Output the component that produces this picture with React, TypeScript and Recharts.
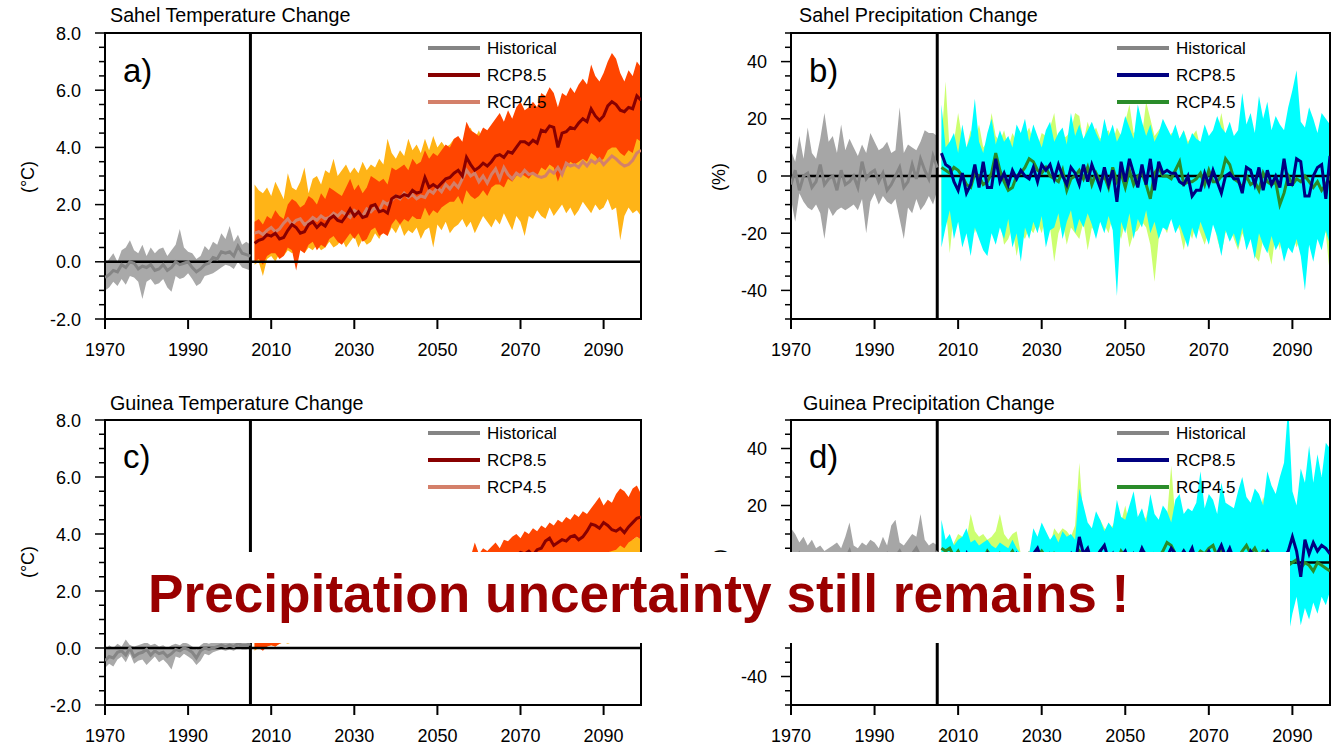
import React from "react";
import { ComposedChart, Area, Line, XAxis, YAxis, ReferenceLine, ReferenceArea } from "recharts";

const FONT = "'Liberation Sans', Arial, Helvetica, sans-serif";

// ---------- categories / ticks ----------
const histYears = Array.from({ length: 36 }, (_, i) => 1970 + i); // 1970-2005
const futureYears = Array.from({ length: 94 }, (_, i) => 2006 + i); // 2006-2099
const xTicks = [1970, 1990, 2010, 2030, 2050, 2070, 2090];
const tempTicks = [-2, -1.5, -1, -0.5, 0, 0.5, 1, 1.5, 2, 2.5, 3, 3.5, 4, 4.5, 5, 5.5, 6, 6.5, 7, 7.5, 8];
const tempMajor = [-2, 0, 2, 4, 6, 8];
const precTicks = [-50, -45, -40, -35, -30, -25, -20, -15, -10, -5, 0, 5, 10, 15, 20, 25, 30, 35, 40, 45, 50];
const precMajor = [-40, -20, 0, 20, 40];
// labels of panel d that lie fully under the white banner in the reference
const guineaPHiddenLabels = [0, -20];

// ---------- a) Sahel temperature ----------
const sahelTHistMean = [-0.55, -0.45, -0.3, -0.35, -0.1, -0.2, 0.0, -0.05, -0.25, -0.15,
  -0.2, -0.1, -0.3, -0.25, -0.1, -0.3, -0.2, 0.0, -0.1, -0.05,
  0.0, -0.2, -0.35, -0.25, -0.1, -0.05, 0.15, 0.1, 0.35, 0.3,
  0.35, 0.2, 0.55, 0.3, 0.25, 0.2];
const sahelTHistHi = [-0.1, 0.1, 0.3, 0.0, 0.4, 0.5, 0.75, 0.4, 0.3, 0.6,
  0.2, 0.5, 0.3, 0.45, 0.5, 0.2, 0.4, 0.6, 1.15, 0.5,
  0.35, 0.3, 0.1, 0.2, 0.55, 0.4, 0.7, 0.6, 1.0, 0.8,
  1.25, 0.7, 0.95, 0.6, 0.7, 0.6];
const sahelTHistLo = [-1.0, -0.9, -0.7, -0.85, -0.6, -0.8, -0.5, -0.55, -0.7, -1.3,
  -0.7, -0.6, -0.8, -0.75, -0.6, -0.9, -1.05, -0.5, -0.6, -0.55,
  -0.4, -0.6, -0.85, -0.75, -0.5, -0.45, -0.4, -0.3, -0.2, -0.1,
  -0.15, -0.25, 0.0, -0.2, -0.25, -0.3];
const sahelT85Mean = [0.65, 0.75, 0.8, 0.95, 0.9, 1.0, 0.8, 0.85, 1.1, 1.3,
  1.2, 1.0, 1.05, 1.3, 1.4, 1.2, 1.35, 1.25, 1.5, 1.6,
  1.45, 1.4, 1.6, 1.85, 1.6, 1.75, 1.55, 1.6, 1.95, 2.0,
  1.75, 1.8, 1.7, 2.2, 2.3, 2.25, 2.35, 2.3, 2.5, 2.4,
  2.45, 2.95, 2.6, 2.7, 2.6, 2.75, 2.9, 2.95, 3.1, 3.2,
  3.0, 3.65, 3.4, 3.2, 3.3, 3.45, 3.35, 3.5, 3.7, 3.75,
  3.65, 3.85, 3.8, 4.0, 4.2, 4.2, 4.1, 4.25, 4.15, 4.6,
  4.55, 4.75, 4.7, 4.0, 4.5, 4.55, 4.7, 4.65, 4.85, 5.0,
  4.9, 5.35, 5.1, 4.95, 5.1, 5.45, 5.6, 5.5, 5.3, 5.25,
  5.4, 5.35, 5.8, 5.65];
const sahelT85Hi = [1.4, 1.5, 1.3, 1.6, 1.5, 1.8, 1.6, 1.5, 2.0, 2.2,
  2.1, 1.9, 2.0, 2.3, 2.2, 2.0, 2.4, 2.2, 2.6, 2.5,
  2.4, 2.3, 2.6, 2.9, 2.5, 2.7, 2.4, 2.6, 3.0, 2.9,
  2.8, 2.9, 2.7, 3.3, 3.2, 3.3, 3.4, 3.2, 3.6, 3.4,
  3.5, 3.9, 3.6, 3.8, 3.7, 3.9, 4.1, 4.0, 4.3, 4.4,
  4.2, 4.9, 4.6, 4.5, 4.4, 4.7, 4.6, 4.8, 5.0, 5.2,
  4.9, 5.3, 5.0, 5.4, 5.6, 5.3, 5.4, 5.6, 5.4, 5.9,
  5.8, 6.1, 5.9, 5.4, 5.9, 5.8, 6.1, 5.9, 6.2, 6.4,
  6.2, 6.9, 6.5, 6.3, 6.6, 7.0, 7.3, 7.1, 6.6, 6.3,
  6.7, 6.5, 7.0, 6.8];
const sahelT85Lo = [0.0, 0.1, -0.1, 0.2, 0.3, 0.3, 0.1, 0.2, 0.5, 0.4,
  -0.3, 0.4, 0.3, 0.6, 0.7, 0.4, 0.6, 0.5, 0.8, 0.9,
  0.7, 0.6, 0.8, 1.0, 0.8, 1.0, 0.7, 0.8, 1.1, 1.2,
  0.9, 1.0, 0.9, 1.3, 1.5, 1.3, 1.5, 1.4, 1.6, 1.5,
  1.5, 1.9, 1.6, 1.8, 1.7, 1.9, 2.0, 2.1, 2.1, 2.3,
  2.0, 2.5, 2.3, 2.2, 2.3, 2.5, 2.3, 2.6, 2.7, 2.7,
  2.6, 2.9, 2.8, 3.0, 3.1, 3.0, 2.9, 3.1, 3.0, 3.3,
  3.2, 3.4, 3.3, 2.8, 3.2, 3.3, 3.5, 3.4, 3.5, 3.6,
  3.5, 3.8, 3.7, 3.5, 3.6, 3.9, 4.0, 4.0, 3.8, 3.7,
  3.9, 3.8, 4.3, 4.2];
const sahelT45Mean = [1.0, 1.05, 0.95, 1.1, 1.2, 1.05, 1.15, 1.35, 1.5, 1.3,
  1.45, 1.5, 1.3, 1.4, 1.55, 1.45, 1.6, 1.5, 1.55, 1.7,
  1.6, 1.75, 1.65, 1.55, 1.8, 1.7, 1.6, 1.85, 1.75, 1.9,
  1.8, 2.1, 2.0, 2.15, 2.3, 2.2, 2.4, 2.25, 2.35, 2.2,
  2.3, 2.25, 2.5, 2.4, 2.6, 2.45, 2.7, 2.55, 2.75, 2.6,
  2.9, 3.2, 3.0, 3.1, 2.8, 3.0, 2.75, 3.05, 3.25, 2.9,
  3.3, 3.05, 2.9, 3.1, 3.0, 3.2, 3.05, 3.1, 3.0, 2.95,
  3.0, 3.2, 3.1, 3.3, 3.05, 3.45, 3.35, 3.4, 3.3, 3.5,
  3.35, 3.55, 3.45, 3.6, 3.4, 3.55, 3.7, 3.6, 3.45, 3.35,
  3.4, 3.55, 3.8, 3.9];
const sahelT45Hi = [2.7, 2.5, 2.4, 2.6, 2.3, 2.8, 2.5, 2.2, 3.1, 2.6,
  2.5, 2.8, 3.3, 2.4, 2.9, 3.0, 2.7, 3.2, 3.1, 3.6,
  3.0, 3.2, 3.4, 3.1, 3.3, 3.1, 3.5, 3.2, 3.4, 3.3,
  3.6, 3.4, 4.3, 3.8, 3.6, 3.9, 3.7, 4.3, 3.9, 4.1,
  3.8, 4.3, 3.9, 4.4, 4.0, 4.2, 4.0, 4.1, 4.3, 3.9,
  4.1, 4.4, 4.7, 4.3, 4.6, 4.2, 4.5, 4.3, 4.4, 4.6,
  4.3, 4.5, 4.2, 4.4, 4.6, 4.3, 4.5, 4.2, 4.4, 4.5,
  4.3, 4.6, 4.4, 4.5, 4.3, 4.6, 4.4, 4.5, 4.7, 4.4,
  4.5, 4.6, 4.4, 4.7, 4.5, 4.6, 4.8, 4.5, 4.4, 4.6,
  4.3, 4.5, 4.6, 4.7];
const sahelT45Lo = [-0.1, 0.0, -0.5, 0.1, 0.2, 0.0, 0.3, 0.2, 0.4, 0.3,
  0.4, 0.6, 0.3, 0.5, 0.4, 0.6, 0.4, 0.5, 0.7, 0.5,
  0.6, 0.8, 0.5, 0.7, 0.9, 0.5, 0.8, 0.6, 0.7, 1.0,
  0.8, 1.1, 0.9, 1.2, 1.0, 1.3, 0.9, 1.1, 1.0, 1.2,
  0.8, 1.1, 1.2, 0.5, 1.3, 1.1, 1.4, 1.0, 1.2, 1.3,
  1.5, 1.2, 1.4, 1.0, 1.3, 1.6, 1.4, 1.2, 1.5, 1.3,
  1.7, 1.4, 1.1, 1.6, 1.4, 0.9, 1.6, 1.5, 1.8, 1.6,
  1.5, 1.9, 1.6, 1.8, 2.0, 1.7, 1.9, 1.6, 1.8, 2.1,
  1.9, 1.7, 2.0, 1.8, 1.9, 2.2, 1.8, 1.9, 0.75, 1.6,
  1.9, 1.7, 1.8, 1.6];

// ---------- b) Sahel precipitation ----------
const sahelPHistMean = [-3, 2, -5, 0, 1, -4, -2, 4, -3, -1,
  0, -5, 2, -3, -2, 0, -4, 5, -1, 1,
  2, -2, 1, -5, -3, 0, 3, -4, -2, 4,
  -1, 6, 2, -1, 7, 3];
const sahelPHistHi = [9, 5, 14, 6, 17, 8, 6, 13, 22, 12,
  14, 8, 18, 9, 13, 10, 7, 11, 8, 15,
  12, 9, 10, 12, 8, 9, 24, 8, 11, 10,
  9, 12, 16, 15, 15, 14];
const sahelPHistLo = [-8, -16, -6, -9, -11, -12, -10, -13, -22, -11,
  -14, -12, -11, -12, -11, -10, -12, -8, -20, -9,
  -6, -10, -7, -9, -10, -8, -15, -22, -11, -13,
  -8, -12, -10, -7, -10, -5];
const sahelP85Mean = [8, 4, 3, -2, -5, 1, -6, -3, 4, -4,
  5, -4, -4, 6, -2, 1, -3, 2, -1, 2,
  0, -1, 3, -2, 4, 2, 4, -1, 4, 0,
  -3, 3, 1, -3, 4, -2, 4, 0, -4, 3,
  -3, 2, -9, 5, -2, 6, 1, -4, 4, -3,
  6, -5, 5, 1, 2, 1, 1, -2, -3, 0,
  -7, -5, -5, 1, -3, 2, -2, -6, 0, 1,
  -1, -1, -6, 3, 2, -3, 3, -5, 2, -3,
  0, -4, 6, -3, -3, 6, 5, -7, -7, 0,
  3, 4, -8, 7];
const sahelP85Hi = [25, 10, 12, 15, 8, 18, 10, 14, 27, 12,
  8, 15, 20, 11, 16, 12, 14, 10, 18, 15,
  20, 12, 18, 14, 10, 16, 19, 12, 15, 17,
  11, 22, 14, 18, 13, 16, 19, 15, 12, 20,
  14, 18, 12, 15, 21, 17, 13, 25, 19, 14,
  18, 12, 15, 20, 17, 14, 18, 13, 16, 11,
  15, 13, 12, 18, 14, 16, 21, 17, 15, 19,
  14, 16, 29, 18, 22, 15, 28, 20, 26, 16,
  21, 18, 16, 24, 30, 37, 19, 17, 24, 20,
  15, 22, 20, 18];
const sahelP85Lo = [-25, -18, -12, -22, -16, -25, -20, -28, -18, -22,
  -26, -28, -20, -24, -18, -22, -15, -25, -20, -30,
  -18, -22, -16, -20, -14, -25, -19, -18, -13, -22,
  -16, -12, -20, -15, -18, -13, -17, -22, -16, -20,
  -14, -19, -42, -16, -20, -13, -22, -15, -18, -12,
  -20, -16, -22, -18, -19, -15, -20, -17, -21, -25,
  -18, -22, -16, -20, -24, -17, -21, -28, -19, -23,
  -20, -25, -18, -26, -22, -29, -20, -24, -27, -21,
  -26, -23, -30, -25, -27, -22, -28, -40, -24, -30,
  -22, -26, -19, -24];
const sahelP45Mean = [3, 2, 1, 3, 2, 0, -3, -4, 1, 0,
  -3, -2, 1, 8, 2, -2, -5, -4, 0, 1,
  3, 6, 5, 2, 1, 3, 0, -1, -2, 2,
  -5, -1, 0, 2, -1, 3, -3, 1, -2, 0,
  -4, 3, -2, 1, -4, 2, -3, 0, 1, -3,
  -8, 1, 3, 0, 0, -1, 2, 5, -3, -2,
  -2, -1, 1, -3, 2, -2, -2, 0, 6, 4,
  -1, -2, -4, 0, -3, -2, -5, 1, -2, -3,
  -2, -10, -6, 0, -3, -1, -2, 0, -2, -4,
  -2, -5, -3, 0];
const sahelP45Hi = [12, 33, 8, 12, 22, 13, 10, 16, 12, 18,
  10, 12, 22, 14, 12, 16, 10, 15, 12, 13,
  14, 17, 12, 10, 15, 14, 17, 22, 11, 13,
  14, 16, 22, 21, 12, 19, 14, 17, 13, 15,
  16, 12, 17, 14, 19, 25, 15, 16, 14, 26,
  20, 14, 16, 18, 12, 15, 14, 13, 16, 12,
  14, 16, 10, 12, 13, 10, 15, 22, 14, 12,
  11, 15, 16, 17, 14, 13, 15, 12, 14, 13,
  12, 11, 14, 10, 12, 11, 13, 9, 12, 14,
  10, 14, 19, 12];
const sahelP45Lo = [-18, -10, -27, -12, -14, -22, -16, -12, -20, -15,
  -14, -18, -12, -20, -16, -24, -22, -18, -28, -20,
  -22, -18, -20, -16, -20, -14, -18, -30, -20, -16,
  -24, -18, -20, -22, -16, -26, -18, -20, -15, -17,
  -20, -14, -18, -22, -16, -25, -20, -19, -16, -18,
  -24, -37, -22, -17, -20, -14, -16, -19, -26, -18,
  -22, -16, -20, -24, -19, -15, -22, -27, -20, -17,
  -22, -26, -20, -24, -21, -28, -30, -22, -25, -31,
  -20, -26, -18, -24, -20, -25, -21, -19, -23, -20,
  -22, -18, -20, -35];

// ---------- c) Guinea temperature ----------
const guineaTHistMean = [-0.45, -0.3, -0.35, -0.15, -0.1, -0.25, 0.0, -0.3, -0.2, -0.15,
  -0.05, -0.25, -0.1, -0.2, -0.15, -0.3, -0.2, -0.05, -0.1, 0.0,
  -0.05, -0.15, -0.35, -0.1, 0.0, -0.05, 0.0, 0.05, 0.1, 0.05,
  0.1, 0.05, 0.15, 0.1, 0.1, 0.15];
const guineaTHistHi = [-0.1, 0.1, 0.0, 0.15, 0.05, 0.3, 0.1, 0.05, 0.1, 0.15,
  0.2, 0.1, 0.15, 0.05, 0.1, 0.0, 0.1, 0.15, 0.1, 0.2,
  0.15, 0.05, -0.05, 0.1, 0.2, 0.15, 0.2, 0.25, 0.3, 0.25,
  0.3, 0.25, 0.35, 0.3, 0.3, 0.35];
const guineaTHistLo = [-0.7, -0.55, -0.65, -0.4, -0.3, -0.5, -0.2, -0.55, -0.45, -0.4,
  -0.6, -0.45, -0.3, -0.5, -0.4, -0.55, -0.75, -0.3, -0.35, -0.2,
  -0.3, -0.4, -0.6, -0.45, -0.2, -0.25, -0.15, -0.1, -0.05, -0.1,
  -0.05, -0.1, 0.0, -0.05, -0.05, 0.0];
const guineaT85Mean = [0.35, 0.4, 0.45, 0.5, 0.55, 0.5, 0.6, 0.65, 0.7, 0.75,
  0.8, 0.75, 0.85, 0.9, 0.95, 1.0, 0.95, 1.05, 1.1, 1.15,
  1.2, 1.15, 1.25, 1.3, 1.35, 1.3, 1.4, 1.45, 1.5, 1.55,
  1.6, 1.55, 1.65, 1.75, 1.8, 1.85, 1.9, 1.95, 2.0, 2.05,
  2.1, 2.15, 2.2, 2.3, 2.35, 2.4, 2.45, 2.5, 2.6, 2.65,
  2.7, 2.75, 2.8, 2.9, 2.85, 2.95, 3.0, 3.05, 3.1, 3.0,
  3.15, 3.2, 3.3, 3.25, 3.35, 3.3, 3.4, 3.25, 3.45, 3.5,
  3.75, 3.85, 3.6, 3.7, 3.8, 3.75, 3.9, 3.95, 3.8, 3.9,
  4.1, 4.35, 4.3, 4.2, 4.4, 4.3, 4.15, 4.1, 4.2, 4.05,
  4.25, 4.4, 4.55, 4.6];
const guineaT85Hi = [0.9, 1.0, 1.0, 1.1, 1.2, 1.1, 1.3, 1.3, 1.4, 1.4,
  1.5, 1.4, 1.6, 1.7, 1.7, 1.8, 1.7, 1.9, 2.0, 2.0,
  2.1, 2.0, 2.2, 2.3, 2.3, 2.2, 2.4, 2.5, 2.5, 2.6,
  2.7, 2.6, 2.8, 2.9, 2.9, 3.0, 2.9, 3.1, 3.0, 3.1,
  3.0, 3.05, 3.1, 3.0, 3.15, 3.05, 3.1, 3.0, 3.15, 3.1,
  3.15, 3.1, 3.2, 3.7, 3.3, 3.5, 3.4, 3.55, 3.7, 3.5,
  3.8, 3.75, 3.9, 4.0, 3.85, 4.1, 4.0, 4.2, 4.1, 4.3,
  4.2, 4.4, 4.3, 4.5, 4.4, 4.6, 4.5, 4.7, 4.6, 4.8,
  4.7, 4.9, 5.1, 5.3, 5.0, 5.2, 5.1, 5.4, 5.6, 5.5,
  5.3, 5.6, 5.7, 5.4];
const guineaT85Lo = [-0.05, 0.0, -0.1, 0.05, 0.1, 0.05, 0.15, 0.2, 0.2, 0.25,
  0.25, 0.2, 0.3, 0.35, 0.4, 0.4, 0.35, 0.45, 0.5, 0.5,
  0.55, 0.5, 0.6, 0.65, 0.7, 0.65, 0.75, 0.8, 0.8, 0.85,
  0.9, 0.85, 0.95, 1.0, 1.05, 1.1, 1.1, 1.15, 1.2, 1.25,
  1.3, 1.35, 1.4, 1.45, 1.5, 1.55, 1.6, 1.65, 1.7, 1.75,
  1.8, 1.85, 1.9, 2.0, 1.95, 2.05, 2.1, 2.15, 2.2, 2.1,
  2.25, 2.3, 2.4, 2.35, 2.45, 2.4, 2.5, 2.4, 2.55, 2.6,
  2.7, 2.8, 2.65, 2.75, 2.85, 2.8, 2.9, 2.95, 2.85, 2.95,
  3.1, 3.2, 3.25, 3.15, 3.3, 3.35, 3.4, 3.45, 3.6, 3.5,
  3.7, 3.8, 3.9, 3.8];
const guineaT45Mean = [0.45, 0.5, 0.45, 0.55, 0.6, 0.55, 0.65, 0.7, 0.7, 0.75,
  0.8, 0.8, 0.85, 0.9, 0.9, 0.95, 1.0, 1.0, 1.05, 1.1,
  1.1, 1.15, 1.2, 1.2, 1.25, 1.3, 1.3, 1.35, 1.4, 1.4,
  1.45, 1.5, 1.5, 1.55, 1.6, 1.6, 1.65, 1.7, 1.7, 1.75,
  1.8, 1.8, 1.85, 1.9, 1.9, 1.95, 2.0, 1.95, 2.0, 2.05,
  2.1, 2.05, 2.1, 2.15, 2.1, 2.2, 2.15, 2.2, 2.25, 2.2,
  2.25, 2.3, 2.25, 2.3, 2.35, 2.3, 2.35, 2.4, 2.35, 2.4,
  2.45, 2.4, 2.45, 2.5, 2.45, 2.5, 2.55, 2.5, 2.55, 2.6,
  2.55, 2.6, 2.65, 2.6, 2.65, 2.7, 2.65, 2.7, 2.75, 2.7,
  2.75, 2.8, 2.75, 2.85];
const guineaT45Hi = [1.0, 1.1, 1.0, 1.2, 1.3, 1.2, 1.3, 1.4, 1.4, 1.5,
  1.5, 1.5, 1.6, 1.7, 1.6, 1.7, 1.8, 1.8, 1.9, 1.9,
  1.9, 2.0, 2.1, 2.0, 2.1, 2.2, 2.1, 2.2, 2.3, 2.2,
  2.3, 2.4, 2.3, 2.4, 2.5, 2.4, 2.5, 2.6, 2.5, 2.6,
  2.7, 2.6, 2.7, 2.8, 2.7, 2.8, 2.9, 2.8, 2.9, 2.9,
  3.0, 2.9, 3.0, 3.1, 3.0, 3.1, 3.0, 3.1, 3.2, 3.1,
  3.1, 3.2, 3.1, 3.2, 3.2, 3.1, 3.2, 3.2, 3.1, 3.2,
  3.2, 3.1, 3.2, 3.2, 3.1, 3.2, 3.2, 3.1, 3.2, 3.2,
  3.2, 3.1, 3.2, 3.2, 3.2, 3.3, 3.5, 3.6, 3.7, 3.6,
  3.8, 3.8, 3.9, 3.8];
const guineaT45Lo = [-0.1, 0.0, -0.05, 0.05, 0.1, 0.05, 0.15, 0.2, 0.15, 0.2,
  0.25, 0.25, 0.3, 0.35, 0.3, 0.4, 0.45, 0.4, 0.5, 0.55,
  0.5, 0.6, 0.65, 0.6, 0.7, 0.75, 0.7, 0.8, 0.85, 0.8,
  0.9, 0.95, 0.9, 1.0, 1.05, 1.0, 1.1, 1.15, 1.1, 1.2,
  1.25, 1.2, 1.3, 1.35, 1.3, 1.4, 1.45, 1.4, 1.45, 1.5,
  1.55, 1.5, 1.55, 1.6, 1.55, 1.65, 1.6, 1.65, 1.7, 1.65,
  1.7, 1.75, 1.7, 1.75, 1.8, 1.75, 1.8, 1.85, 1.8, 1.85,
  1.9, 1.85, 1.9, 1.95, 1.9, 1.95, 2.0, 1.95, 2.0, 2.05,
  2.0, 2.05, 2.1, 2.05, 2.1, 2.15, 2.1, 2.15, 2.2, 2.15,
  2.2, 2.25, 2.2, 2.3];

// ---------- d) Guinea precipitation ----------
const guineaPHistMean = [2, -1, 3, 0, 1, -2, 2, 0, -1, 1,
  -3, 0, 2, 1, 4, -1, 2, 0, 1, 3,
  2, -2, 1, 3, 0, 2, 4, 1, 0, 3,
  5, 2, 1, 3, 2, 4];
const guineaPHistHi = [12, 10, 7, 9, 6, 8, 5, 6, 4, 5,
  6, 7, 5, 9, 14, 6, 5, 7, 6, 8,
  7, 5, 9, 6, 13, 15, 7, 6, 8, 10,
  9, 17, 8, 6, 7, 6];
const guineaPHistLo = [-12, -15, -10, -18, -9, -14, -11, -16, -13, -10,
  -20, -12, -9, -15, -11, -13, -17, -10, -12, -14,
  -9, -16, -11, -13, -10, -12, -15, -9, -11, -14,
  -10, -12, -8, -11, -9, -10];
const guineaP85Mean = [3, 1, 2, -1, 2, 0, 3, -2, 1, 2,
  0, 3, -1, 2, 1, -2, 2, 0, 3, 1,
  -1, 2, 3, 5, 1, -2, 3, 2, 0, 2,
  1, 3, -1, 9, 3, 5, 0, 2, 4, 6,
  1, 3, -2, 2, 4, 0, 3, 1, 5, 2,
  -1, 3, 2, 0, 2, 5, 3, 1, 4, 2,
  5, 0, 3, 2, 4, 1, 3, 6, 2, 5,
  1, 3, 2, 0, 4, 2, 3, 1, 4, 2,
  3, 1, 2, 4, 9, 4, -5, 8, 3, 7,
  4, 6, 5, 3];
const guineaP85Hi = [15, 8, 10, 6, 8, 9, 12, 7, 8, 6,
  7, 8, 6, 5, 7, 6, 5, 8, 5, 3,
  2, 3, 12, 9, 14, 11, 8, 10, 7, 11,
  9, 10, 8, 26, 20, 14, 12, 18, 15, 11,
  14, 12, 22, 16, 15, 20, 25, 16, 19, 14,
  24, 17, 15, 20, 18, 14, 22, 24, 17, 19,
  18, 21, 32, 19, 24, 22, 17, 28, 21, 20,
  19, 25, 30, 23, 21, 26, 24, 20, 32, 27,
  24, 30, 35, 55, 25, 20, 33, 28, 41, 28,
  38, 30, 42, 40];
const guineaP85Lo = [-12, -15, -10, -18, -14, -11, -16, -13, -19, -12,
  -15, -20, -14, -17, -12, -18, -16, -13, -21, -15,
  -18, -14, -20, -16, -13, -19, -15, -22, -17, -14,
  -20, -16, -13, -18, -15, -21, -17, -14, -19, -16,
  -13, -18, -22, -15, -17, -20, -14, -19, -16, -21,
  -15, -18, -13, -20, -17, -22, -16, -19, -14, -21,
  -18, -15, -23, -17, -20, -16, -22, -18, -15, -21,
  -17, -24, -19, -16, -22, -18, -20, -25, -17, -21,
  -19, -23, -18, -26, -18, -12, -22, -16, -20, -14,
  -18, -12, -15, -10];
const guineaP45Mean = [5, 4, 5, 2, 4, 1, 3, 0, 2, 3,
  1, 4, 2, 0, 3, 1, 2, 4, 1, 2,
  0, 3, 1, 2, 4, 2, 0, 3, 1, 2,
  3, 1, 2, 4, 2, 0, 3, 2, 4, 1,
  3, 2, 0, 4, 2, 3, 1, 2, 4, 3,
  1, 3, 2, 4, 7, 6, 3, 2, 4, 1,
  3, 2, 4, 3, 5, 6, 2, 4, 3, 1,
  3, 2, 4, 6, 3, 5, 2, 4, 3, 1,
  2, 0, 1, -1, 0, 1, -2, 0, -1, -3,
  0, -1, -2, -3];
const guineaP45Hi = [5, 6, 4, 7, 10, 9, 8, 17, 11, 9,
  10, 8, 9, 11, 17, 10, 8, 10, 11, 3,
  3, 3, 6, 8, 7, 9, 6, 12, 10, 12,
  11, 9, 13, 35, 15, 12, 10, 14, 15, 12,
  11, 13, 16, 14, 20, 13, 15, 12, 14, 16,
  22, 15, 14, 18, 16, 34, 15, 18, 14, 16,
  15, 20, 17, 14, 16, 18, 15, 17, 16, 15,
  18, 16, 22, 17, 15, 19, 16, 23, 18, 17,
  16, 14, 18, 15, 13, 13, 16, 14, 15, 12,
  14, 12, 15, 13];
const guineaP45Lo = [-10, -13, -8, -15, -12, -9, -14, -11, -16, -10,
  -13, -17, -12, -15, -10, -16, -14, -11, -18, -13,
  -16, -12, -18, -14, -11, -17, -13, -19, -15, -12,
  -17, -14, -11, -16, -13, -19, -15, -12, -17, -14,
  -11, -16, -19, -13, -15, -18, -12, -17, -14, -18,
  -13, -16, -11, -18, -15, -19, -14, -17, -12, -18,
  -16, -13, -20, -15, -18, -14, -19, -16, -13, -18,
  -15, -21, -17, -14, -19, -16, -18, -22, -15, -18,
  -17, -20, -16, -22, -16, -10, -19, -14, -18, -12,
  -16, -10, -13, -9];

// ---------- table building ----------
type Row = { year: number; [k: string]: any };
function buildRows(
  hMean: number[], hLo: number[], hHi: number[],
  aMean: number[], aLo: number[], aHi: number[],
  bMean: number[], bLo: number[], bHi: number[]
): Row[] {
  const rows: Row[] = [];
  histYears.forEach((year, i) => rows.push({ year, hist: hMean[i], histBand: [hLo[i], hHi[i]] }));
  futureYears.forEach((year, i) =>
    rows.push({
      year,
      r85: aMean[i], r85Band: [aLo[i], aHi[i]],
      r45: bMean[i], r45Band: [bLo[i], bHi[i]],
    })
  );
  return rows;
}

const sahelTRows = buildRows(sahelTHistMean, sahelTHistLo, sahelTHistHi, sahelT85Mean, sahelT85Lo, sahelT85Hi, sahelT45Mean, sahelT45Lo, sahelT45Hi);
const sahelPRows = buildRows(sahelPHistMean, sahelPHistLo, sahelPHistHi, sahelP85Mean, sahelP85Lo, sahelP85Hi, sahelP45Mean, sahelP45Lo, sahelP45Hi);
const guineaTRows = buildRows(guineaTHistMean, guineaTHistLo, guineaTHistHi, guineaT85Mean, guineaT85Lo, guineaT85Hi, guineaT45Mean, guineaT45Lo, guineaT45Hi);
const guineaPRows = buildRows(guineaPHistMean, guineaPHistLo, guineaPHistHi, guineaP85Mean, guineaP85Lo, guineaP85Hi, guineaP45Mean, guineaP45Lo, guineaP45Hi);

const tempColors = { histBand: "#A9A9A9", hist: "#858585", r45Band: "#FFB417", r85Band: "#FF4500", r45: "#D4806A", r85: "#880000" };
const precColors = { histBand: "#A6A6A6", hist: "#858585", r45Band: "#CCFF70", r85Band: "#00FFFF", r45: "#2A8C2A", r85: "#000080" };

const fmtTemp = (v: number) => v.toFixed(1);
const fmtPrec = (v: number) => String(v);

const YTick = (props: any) => {
  const { x, y, payload, majors, fmt, hidden } = props;
  const v = payload.value;
  const isMajor = majors.some((m: number) => Math.abs(m - v) < 1e-6);
  const showLabel = isMajor && !(hidden || []).some((h: number) => Math.abs(h - v) < 1e-6);
  return (
    <g>
      <line x1={x - (isMajor ? 10 : 6)} x2={x} y1={y} y2={y} stroke="#000" strokeWidth={1.5} />
      {showLabel && (
        <text x={x - 24} y={y} dy={6.5} textAnchor="end" fontSize={18} fontFamily={FONT} fill="#000">
          {fmt(v)}
        </text>
      )}
    </g>
  );
};

const XTick = (props: any) => {
  const { x, y, payload } = props;
  return (
    <g>
      <line x1={x} x2={x} y1={y} y2={y + 10} stroke="#000" strokeWidth={2} />
      <text x={x} y={y + 37} textAnchor="middle" fontSize={18} fontFamily={FONT} fill="#000">
        {payload.value}
      </text>
    </g>
  );
};

type PanelProps = {
  left: number; top: number; width: number; height: number;
  plotTop: number; plotHeight: number; yAxisWidth: number; marginRight: number;
  rows: Row[]; yDomain: [number, number]; yTicks: number[]; yMajor: number[];
  fmt: (v: number) => string; colors: typeof tempColors; hiddenLabels?: number[];
};

function Panel(p: PanelProps) {
  const xAxisHeight = p.height - p.plotTop - p.plotHeight;
  return (
    <div style={{ position: "absolute", left: p.left, top: p.top }}>
      <ComposedChart width={p.width} height={p.height} data={p.rows}
        margin={{ top: p.plotTop, right: p.marginRight, bottom: 0, left: 0 }}>
        <XAxis dataKey="year" type="number" domain={[1970, 2099]} ticks={xTicks} interval={0}
          allowDataOverflow tickSize={0} tickMargin={0} axisLine={false} tickLine={false}
          height={xAxisHeight} tick={(t: any) => <XTick {...t} />} />
        <YAxis type="number" domain={p.yDomain} ticks={p.yTicks} interval={0} allowDataOverflow
          width={p.yAxisWidth} tickSize={0} tickMargin={0} axisLine={false} tickLine={false}
          tick={(t: any) => <YTick {...t} majors={p.yMajor} fmt={p.fmt} hidden={p.hiddenLabels} />} />
        <Area type="linear" dataKey="histBand" fill={p.colors.histBand} fillOpacity={1} stroke="none" isAnimationActive={false} activeDot={false} />
        <Area type="linear" dataKey="r45Band" fill={p.colors.r45Band} fillOpacity={1} stroke="none" isAnimationActive={false} activeDot={false} />
        <Area type="linear" dataKey="r85Band" fill={p.colors.r85Band} fillOpacity={1} stroke="none" isAnimationActive={false} activeDot={false} />
        <ReferenceLine y={0} stroke="#000" strokeWidth={2.5} />
        <ReferenceLine x={2005} stroke="#000" strokeWidth={3} />
        <Line type="linear" dataKey="hist" stroke={p.colors.hist} strokeWidth={3} dot={false} activeDot={false} isAnimationActive={false} />
        <Line type="linear" dataKey="r45" stroke={p.colors.r45} strokeWidth={3} dot={false} activeDot={false} isAnimationActive={false} />
        <Line type="linear" dataKey="r85" stroke={p.colors.r85} strokeWidth={3} dot={false} activeDot={false} isAnimationActive={false} />
        <ReferenceArea x1={1970} x2={2099} y1={p.yDomain[0]} y2={p.yDomain[1]} fill="none" fillOpacity={0} stroke="#000" strokeWidth={2} ifOverflow="visible" />
      </ComposedChart>
    </div>
  );
}

const legendLabels = ["Historical", "RCP8.5", "RCP4.5"];

function LegendBlock({ x, y, colors }: { x: number; y: number; colors: string[] }) {
  return (
    <g>
      {legendLabels.map((lab, i) => (
        <g key={lab}>
          <line x1={x} x2={x + 52} y1={y + i * 27} y2={y + i * 27} stroke={colors[i]} strokeWidth={4} />
          <text x={x + 59} y={y + i * 27 + 6} fontSize={17} fontFamily={FONT} fill="#000">{lab}</text>
        </g>
      ))}
    </g>
  );
}

export default function App() {
  const tempLeg = [tempColors.hist, tempColors.r85, tempColors.r45];
  const precLeg = [precColors.hist, precColors.r85, precColors.r45];
  return (
    <div style={{ position: "absolute", left: 0, top: 0, width: 1334, height: 749, background: "#fff", overflow: "hidden" }}>
      <Panel left={0} top={0} width={660} height={370} plotTop={33} plotHeight={286} yAxisWidth={105} marginRight={19}
        rows={sahelTRows} yDomain={[-2, 8]} yTicks={tempTicks} yMajor={tempMajor} fmt={fmtTemp} colors={tempColors} />
      <Panel left={670} top={0} width={664} height={370} plotTop={33} plotHeight={286} yAxisWidth={121} marginRight={4}
        rows={sahelPRows} yDomain={[-50, 50]} yTicks={precTicks} yMajor={precMajor} fmt={fmtPrec} colors={precColors} />
      <Panel left={0} top={387} width={660} height={362} plotTop={33} plotHeight={285} yAxisWidth={105} marginRight={19}
        rows={guineaTRows} yDomain={[-2, 8]} yTicks={tempTicks} yMajor={tempMajor} fmt={fmtTemp} colors={tempColors} />
      <Panel left={670} top={387} width={664} height={362} plotTop={33} plotHeight={285} yAxisWidth={121} marginRight={4}
        rows={guineaPRows} yDomain={[-50, 50]} yTicks={precTicks} yMajor={precMajor} fmt={fmtPrec} colors={precColors}
        hiddenLabels={guineaPHiddenLabels} />

      <svg width={1334} height={749} style={{ position: "absolute", left: 0, top: 0, pointerEvents: "none" }}>
        <text x={110} y={22} fontSize={19.7} fontFamily={FONT}>Sahel Temperature Change</text>
        <text x={799} y={22} fontSize={19.7} fontFamily={FONT}>Sahel Precipitation Change</text>
        <text x={110} y={410} fontSize={19.7} fontFamily={FONT}>Guinea Temperature Change</text>
        <text x={803} y={410} fontSize={19.7} fontFamily={FONT}>Guinea Precipitation Change</text>

        <text x={123} y={82} fontSize={33} fontFamily={FONT}>a)</text>
        <text x={809} y={82} fontSize={33} fontFamily={FONT}>b)</text>
        <text x={123} y={468} fontSize={33} fontFamily={FONT}>c)</text>
        <text x={809} y={468} fontSize={33} fontFamily={FONT}>d)</text>

        <text transform="translate(27.5,177) rotate(-90)" textAnchor="middle" dy={6} fontSize={18} fontFamily={FONT}>(°C)</text>
        <text transform="translate(718.5,177) rotate(-90)" textAnchor="middle" dy={6} fontSize={18} fontFamily={FONT}>(%)</text>
        <text transform="translate(27.5,562) rotate(-90)" textAnchor="middle" dy={6} fontSize={18} fontFamily={FONT}>(°C)</text>
        <text transform="translate(718.5,563) rotate(-90)" textAnchor="middle" dy={6} fontSize={18} fontFamily={FONT}>(%)</text>

        <LegendBlock x={428} y={48} colors={tempLeg} />
        <LegendBlock x={1117} y={48} colors={precLeg} />
        <LegendBlock x={428} y={433} colors={tempLeg} />
        <LegendBlock x={1117} y={433} colors={precLeg} />

        <rect x={137} y={552} width={1153} height={91} fill="#fff" />
        <text x={148} y={612} fontSize={53.2} fontWeight="bold" fontFamily={FONT} fill="#9A0000">
          Precipitation uncertainty still remains !
        </text>
      </svg>
    </div>
  );
}
